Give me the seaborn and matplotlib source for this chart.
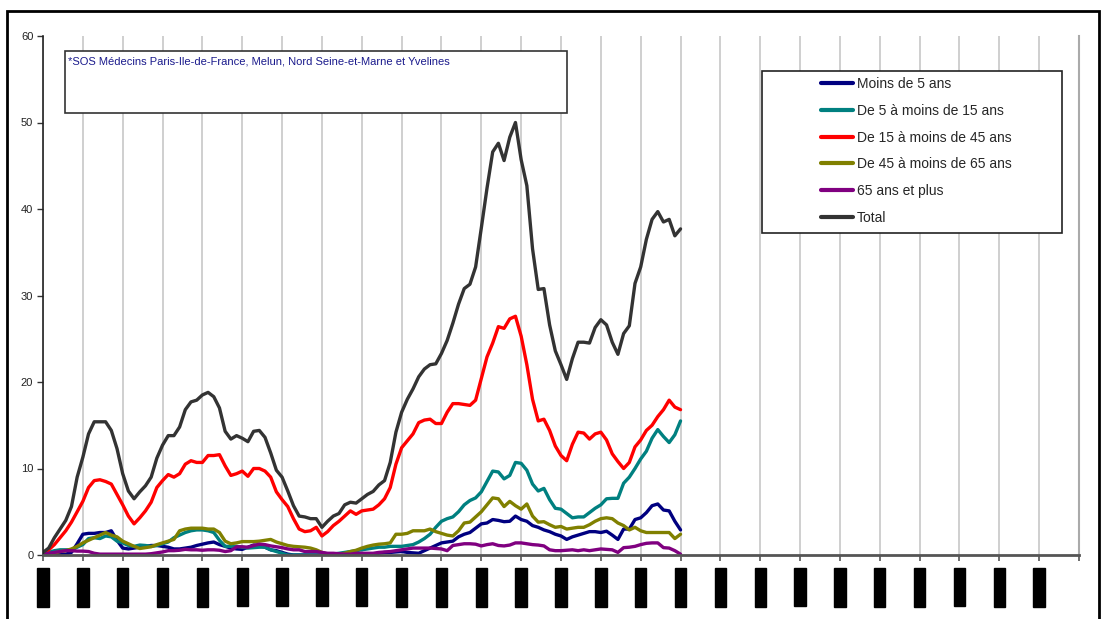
import pandas as pd
import matplotlib
matplotlib.use("Agg")
import matplotlib.pyplot as plt
from matplotlib.patches import Rectangle
from matplotlib.lines import Line2D
import seaborn as sns

# Daily values (113 days)
jours = list(range(113))

moins_5 = [0.0, 0.0, 0.0, 0.1, 0.1, 0.3, 1.3, 2.4, 2.5, 2.5,
           2.6, 2.6, 2.8, 1.7, 0.8, 0.7, 0.8, 0.9, 1.0, 1.1,
           1.1, 1.0, 0.9, 0.7, 0.7, 0.8, 0.9, 1.1, 1.25, 1.4,
           1.5, 1.2, 1.0, 0.8, 0.7, 0.65, 0.9, 1.15, 1.1, 0.9,
           0.6, 0.5, 0.3, 0.1, 0.0, 0.0, 0.0, 0.0, 0.0, 0.0,
           0.0, 0.0, 0.0, 0.0, 0.0, 0.0, 0.0, 0.0, 0.1, 0.2,
           0.3, 0.3, 0.35, 0.4, 0.3, 0.25, 0.2, 0.5, 0.8, 1.1,
           1.4, 1.5, 1.6, 2.1, 2.4, 2.6, 3.1, 3.6, 3.7, 4.1,
           4.0, 3.85, 3.9, 4.5, 4.1, 3.9, 3.4, 3.2, 2.9, 2.7,
           2.4, 2.2, 1.8, 2.1, 2.3, 2.5, 2.7, 2.7, 2.6, 2.75,
           2.3, 1.8, 3.0, 3.0, 4.1, 4.3, 4.9, 5.7, 5.9, 5.2,
           5.1, 3.9, 2.9]

de_5_15 = [0.1, 0.3, 0.5, 0.6, 0.6, 0.6, 0.9, 1.2, 1.9, 2.0,
           1.9, 2.2, 2.1, 1.6, 1.4, 1.1, 1.0, 1.15, 1.1, 1.0,
           1.1, 1.3, 1.5, 2.0, 2.3, 2.6, 2.8, 2.9, 2.9, 2.8,
           2.6, 1.7, 1.0, 1.0, 1.0, 0.9, 0.8, 0.85, 0.9, 0.9,
           0.6, 0.4, 0.2, 0.0, 0.0, 0.0, 0.0, 0.0, 0.0, 0.0,
           0.0, 0.1, 0.2, 0.3, 0.4, 0.5, 0.6, 0.7, 0.8, 0.9,
           0.9, 1.0, 1.0, 1.0, 1.1, 1.2, 1.5, 1.9, 2.4, 3.2,
           3.9, 4.2, 4.4, 5.0, 5.8, 6.3, 6.6, 7.3, 8.5, 9.7,
           9.6, 8.8, 9.2, 10.7, 10.6, 9.8, 8.2, 7.4, 7.7, 6.4,
           5.4, 5.3, 4.8, 4.3, 4.4, 4.4, 4.9, 5.4, 5.8, 6.5,
           6.55, 6.55, 8.3, 9.0, 10.0, 11.1, 12.0, 13.5, 14.5, 13.7,
           13.0, 13.9, 15.5]

de_15_45 = [0.1, 0.6, 1.2, 2.0, 2.8, 3.8, 5.0, 6.2, 7.8, 8.6,
            8.7, 8.5, 8.2, 7.0, 5.8, 4.5, 3.6, 4.3, 5.1, 6.1,
            7.8, 8.6, 9.3, 9.0, 9.4, 10.5, 10.9, 10.7, 10.7, 11.5,
            11.5, 11.6, 10.3, 9.2, 9.4, 9.7, 9.1, 10.0, 10.0, 9.7,
            9.0, 7.3, 6.4, 5.6, 4.2, 3.0, 2.7, 2.8, 3.2, 2.2,
            2.7, 3.4, 3.9, 4.5, 5.1, 4.7, 5.1, 5.2, 5.3, 5.8,
            6.5, 7.8, 10.5, 12.4, 13.2, 14.0, 15.3, 15.6, 15.7, 15.2,
            15.2, 16.5, 17.5, 17.5, 17.4, 17.3, 17.9, 20.4, 22.9, 24.5,
            26.4, 26.2, 27.3, 27.6, 25.3, 22.0, 18.0, 15.5, 15.7, 14.4,
            12.6, 11.5, 10.9, 12.8, 14.2, 14.1, 13.4, 14.0, 14.2, 13.3,
            11.7, 10.8, 10.0, 10.7, 12.5, 13.3, 14.4, 15.0, 16.0, 16.8,
            17.9, 17.1, 16.8]

de_45_65 = [0.0, 0.1, 0.2, 0.4, 0.5, 0.7, 1.0, 1.4, 1.7, 2.0,
            2.3, 2.6, 2.3, 2.1, 1.6, 1.3, 1.0, 0.75, 0.85, 0.95,
            1.2, 1.4, 1.6, 1.8, 2.8, 3.0, 3.1, 3.1, 3.1, 3.0,
            3.0, 2.6, 1.6, 1.3, 1.4, 1.55, 1.55, 1.55, 1.6, 1.7,
            1.8, 1.5, 1.3, 1.1, 1.0, 0.95, 0.9, 0.8, 0.6, 0.3,
            0.1, 0.1, 0.1, 0.2, 0.4, 0.55, 0.8, 1.0, 1.15, 1.25,
            1.3, 1.4, 2.4, 2.4, 2.5, 2.8, 2.8, 2.8, 3.0, 2.7,
            2.5, 2.3, 2.2, 2.8, 3.7, 3.8, 4.4, 5.0, 5.8, 6.6,
            6.5, 5.6, 6.2, 5.7, 5.3, 5.9, 4.5, 3.8, 3.85, 3.5,
            3.2, 3.3, 3.0, 3.1, 3.2, 3.2, 3.5, 3.9, 4.2, 4.3,
            4.2, 3.7, 3.4, 2.9, 3.2, 2.8, 2.6, 2.6, 2.6, 2.6,
            2.6, 1.9, 2.4]

plus_65 = [0.1, 0.2, 0.3, 0.4, 0.5, 0.5, 0.45, 0.45, 0.4, 0.2,
           0.1, 0.1, 0.1, 0.1, 0.1, 0.1, 0.1, 0.1, 0.1, 0.15,
           0.25, 0.35, 0.5, 0.5, 0.55, 0.65, 0.6, 0.6, 0.55, 0.6,
           0.6, 0.55, 0.4, 0.5, 0.95, 0.95, 0.9, 1.1, 1.25, 1.2,
           1.05, 0.95, 0.85, 0.7, 0.6, 0.6, 0.4, 0.4, 0.4, 0.3,
           0.2, 0.2, 0.15, 0.1, 0.1, 0.2, 0.2, 0.2, 0.2, 0.3,
           0.35, 0.4, 0.5, 0.6, 0.7, 0.8, 0.8, 0.8, 0.8, 0.75,
           0.7, 0.5, 1.1, 1.2, 1.3, 1.3, 1.25, 1.05, 1.2, 1.3,
           1.1, 1.05, 1.15, 1.4, 1.4, 1.3, 1.2, 1.15, 1.05, 0.6,
           0.5, 0.5, 0.55, 0.6, 0.5, 0.6, 0.5, 0.6, 0.7, 0.65,
           0.6, 0.3, 0.85, 0.9, 1.0, 1.2, 1.35, 1.4, 1.4, 0.85,
           0.8, 0.5, 0.1]

total = [0.3, 0.8, 2.0, 3.0, 4.0, 5.6, 9.0, 11.3, 14.0, 15.4,
         15.4, 15.4, 14.4, 12.3, 9.4, 7.4, 6.5, 7.3, 8.0, 9.0,
         11.2, 12.7, 13.8, 13.8, 14.8, 16.8, 17.7, 17.9, 18.5, 18.8,
         18.3, 17.0, 14.3, 13.4, 13.8, 13.5, 13.1, 14.3, 14.4, 13.6,
         11.8, 9.8, 9.0, 7.4, 5.7, 4.5, 4.4, 4.2, 4.2, 3.2,
         3.9, 4.5, 4.8, 5.8, 6.1, 6.0, 6.5, 7.0, 7.35, 8.1,
         8.6, 10.7, 14.2, 16.5, 18.0, 19.2, 20.6, 21.5, 22.0, 22.1,
         23.3, 24.8, 26.8, 29.0, 30.8, 31.3, 33.3, 37.8, 42.4, 46.6,
         47.6, 45.6, 48.3, 50.0, 45.7, 42.7, 35.4, 30.7, 30.8, 26.6,
         23.6, 22.0, 20.3, 22.7, 24.6, 24.6, 24.5, 26.3, 27.2, 26.6,
         24.6, 23.2, 25.6, 26.5, 31.4, 33.3, 36.5, 38.8, 39.7, 38.5,
         38.8, 36.9, 37.7]

groupes = ["Moins de 5 ans", "De 5 à moins de 15 ans", "De 15 à moins de 45 ans",
           "De 45 à moins de 65 ans", "65 ans et plus", "Total"]
couleurs = ["#000080", "#008080", "#ff0000", "#808000", "#800080", "#333333"]

# x labels are masked (black bars) in the source image
dates = ["01/10/12", "08/10/12", "15/10/12", "22/10/12", "29/10/12", "05/11/12",
         "12/11/12", "19/11/12", "26/11/12", "03/12/12", "10/12/12", "17/12/12",
         "24/12/12", "31/12/12", "07/01/13", "14/01/13", "21/01/13", "28/01/13",
         "04/02/13", "11/02/13", "18/02/13", "25/02/13", "04/03/13", "11/03/13",
         "18/03/13", "25/03/13"]

valeurs = [moins_5, de_5_15, de_15_45, de_45_65, plus_65, total]
df = pd.concat([pd.DataFrame({"jour": jours, "valeur": v, "groupe": g})
                for g, v in zip(groupes, valeurs)], ignore_index=True)

sns.set_style("white")
plt.rcParams["font.family"] = ["Liberation Sans", "DejaVu Sans"]

W, H = 1106, 619
fig = plt.figure(figsize=(W / 100, H / 100), dpi=100)
ax = fig.add_axes([43 / W, (H - 555) / H, (1079 - 43) / W, (555 - 36) / H])

sns.lineplot(data=df, x="jour", y="valeur", hue="groupe", hue_order=groupes,
             palette=couleurs, linewidth=2.4, ax=ax, legend=False)

ax.set_xlim(0, 182)
ax.set_ylim(0, 60)
ax.set_xlabel("")
ax.set_ylabel("")
ax.set_yticks(range(0, 61, 10))
ax.set_xticks(range(0, 183, 7))
ax.set_xticklabels(dates + [""], rotation=90, fontsize=6.8, color="black")
for lab in ax.get_xticklabels():
    lab.set_bbox(dict(facecolor="black", edgecolor="black", pad=0.9))
ax.tick_params(axis="y", labelsize=8, labelcolor="#222222", length=4,
               width=1, color="#333333", left=True, pad=3)
ax.tick_params(axis="x", length=4, width=1.2, color="#555555", bottom=True, pad=6)
ax.xaxis.grid(True, color="#cccccc", linewidth=1.3)
ax.yaxis.grid(False)
ax.set_axisbelow(True)

ax.spines["top"].set_visible(False)
ax.spines["left"].set_color("#222222")
ax.spines["left"].set_linewidth(1.2)
ax.spines["bottom"].set_color("#555555")
ax.spines["bottom"].set_linewidth(2)
ax.spines["right"].set_color("#aaaaaa")
ax.spines["right"].set_linewidth(1.5)

# outer frame
fig.patches.append(Rectangle((7 / W, -0.05), (1099 - 7) / W, (H - 11) / H + 0.05,
                             transform=fig.transFigure, fill=False,
                             edgecolor="black", linewidth=2, clip_on=False))

# source note box
fig.patches.append(Rectangle((65 / W, (H - 113) / H), (567 - 65) / W, 62 / H,
                             transform=fig.transFigure, facecolor="white",
                             edgecolor="#333333", linewidth=1.2, zorder=5))
fig.text(68 / W, (H - 62) / H,
         "*SOS Médecins Paris-Ile-de-France, Melun, Nord Seine-et-Marne et Yvelines",
         fontsize=8, color="#1a1a8c", va="center", ha="left", zorder=6)

# legend box
fig.patches.append(Rectangle((762 / W, (H - 233) / H), (1062 - 762) / W, (233 - 71) / H,
                             transform=fig.transFigure, facecolor="white",
                             edgecolor="#222222", linewidth=1.2, zorder=5))
handles = [Line2D([0], [0], color=c, linewidth=3) for c in couleurs]
leg = fig.legend(handles, groupes, loc="upper left",
                 bbox_to_anchor=(821 / W, (H - 77) / H), frameon=False,
                 fontsize=10, handlelength=2.3, handletextpad=0.3,
                 labelspacing=0.92, borderpad=0, borderaxespad=0)
leg.set_zorder(7)

fig.savefig("out.png", dpi=100)
